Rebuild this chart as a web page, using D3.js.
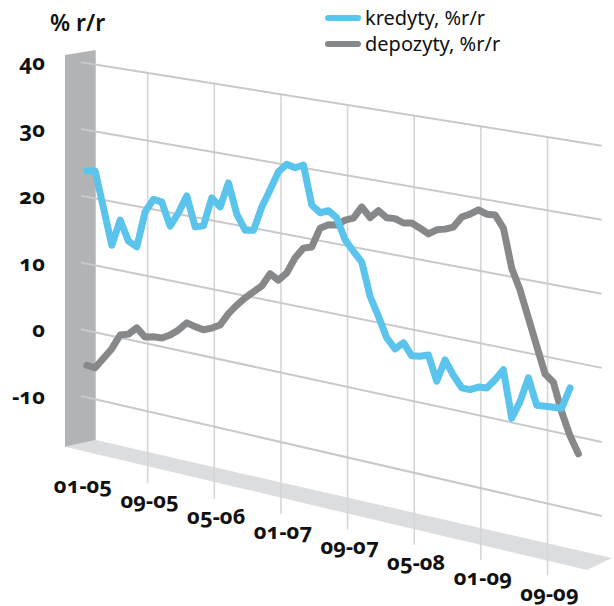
<!DOCTYPE html>
<html>
<head>
<meta charset="utf-8">
<script src="https://cdn.jsdelivr.net/npm/d3@7"></script>
<style>
	body { margin: 0; background: #fff; }
	text { font-family: "Noto Sans", sans-serif; }
	.num { font-weight: 700; font-variant-numeric: oldstyle-nums; font-feature-settings: "onum" 1; }
</style>
</head>
<body>
<svg width="614" height="606"></svg>
<script>
// monthly data, from 01-2005
const kredyty = [23.9, 24.1, 18.8, 13.5, 17.5, 14.6, 14.0, 19.4, 21.5, 21.3, 18.0, 20.2,
	22.9, 18.6, 19.0, 23.3, 22.2, 25.9, 21.6, 19.5, 19.7, 23.3, 26.0, 28.8,
	30.1, 29.8, 30.4, 24.9, 24.0, 24.5, 23.7, 20.8, 19.4, 18.1, 13.5, 10.9,
	8.1, 6.8, 7.9, 6.3, 6.5, 6.9, 3.5, 6.7, 4.8, 3.3, 3.3, 3.9,
	4.0, 5.4, 7.0, 0.6, 3.1, 6.6, 3.1, 3.2, 3.3, 3.4, 6.4];
const depozyty = [-5.2, -5.3, -3.6, -1.9, 0.4, 0.8, 2.0, 0.9, 1.2, 1.3, 2.0, 3.0,
	4.3, 4.0, 3.8, 4.3, 5.0, 6.9, 8.4, 9.7, 10.8, 11.9, 13.9, 13.2,
	14.5, 16.9, 18.5, 18.9, 21.8, 22.5, 22.7, 23.6, 24.1, 25.9, 24.6, 25.8,
	25.0, 25.1, 24.7, 24.9, 24.4, 23.8, 24.6, 24.9, 25.4, 27.0, 27.6, 28.4,
	28.0, 28.1, 26.5, 21.2, 18.4, 14.8, 11.2, 7.6, 6.7, 2.9, -0.1, -2.3];
const yTicks = [40, 30, 20, 10, 0, -10];
const xTicks = [0, 8, 16, 24, 32, 40, 48, 56];
const xTickLabels = ["01-05", "09-05", "05-06", "01-07", "09-07", "05-08", "01-09", "09-09"];
const series = [
	{ name: "kredyty, %r/r", values: kredyty, color: "#5bc4ec" },
	{ name: "depozyty, %r/r", values: depozyty, color: "#87888a" }
];

let svg = d3.select("svg");

// skewed plane: x is linear in months, y blends two value scales (left and right edge)
const x0 = 81, x1 = 601.7;
const xScale = d3.scaleLinear().domain([0, 62.5]).range([x0, x1]);
const yLeft = d3.scaleLinear().domain([40, -10]).range([62.3, 396]);
const yRight = d3.scaleLinear().domain([40, -10]).range([145.7, 516]);
const pointOffset = 0.7;

function proj(m, v) {
	const x = xScale(m);
	const f = (x - x0) / (x1 - x0);
	return [x, yLeft(v) * (1 - f) + yRight(v) * f];
}

// floor
svg.append("polygon")
	.attr("points", "65,446.7 95.7,440 612,558 587,570")
	.attr("fill", "#dcdddf");

// side wall
svg.append("polygon")
	.attr("points", "65,55 95.7,50 95.7,440 65,446.7")
	.attr("fill", "#b2b3b5");

// vertical grid lines
const labelBase = d3.scaleLinear().domain([x0, x1]).range([493, 613]);
svg.append("g").selectAll("line")
	.data(xTicks.slice(1))
	.enter().append("line")
	.attr("x1", d => xScale(d))
	.attr("x2", d => xScale(d))
	.attr("y1", d => proj(d, 40)[1])
	.attr("y2", d => labelBase(xScale(d)) - 25)
	.attr("stroke", "#d6d6d7")
	.attr("stroke-width", 1.6);

// horizontal grid lines
svg.append("g").selectAll("line")
	.data(yTicks)
	.enter().append("line")
	.attr("x1", d => proj(0, d)[0])
	.attr("y1", d => proj(0, d)[1])
	.attr("x2", d => proj(62.5, d)[0])
	.attr("y2", d => proj(62.5, d)[1])
	.attr("stroke", "#c8c9cb")
	.attr("stroke-width", 2);

// y labels
svg.append("g").selectAll("text")
	.data(yTicks)
	.enter().append("text")
	.attr("class", "num")
	.attr("x", 45)
	.attr("y", d => proj(0, d)[1] + 8)
	.attr("text-anchor", "end")
	.style("font-size", "22px")
	.attr("fill", "#111")
	.text(d => d);

// x labels
svg.append("g").selectAll("text")
	.data(xTicks)
	.enter().append("text")
	.attr("class", "num")
	.attr("x", d => xScale(d) + 2)
	.attr("y", d => labelBase(xScale(d)))
	.attr("text-anchor", "middle")
	.style("font-size", "22px")
	.attr("fill", "#111")
	.text((d, i) => xTickLabels[i]);

// lines
const line = d3.line()
	.x((d, i) => proj(i + pointOffset, d)[0])
	.y((d, i) => proj(i + pointOffset, d)[1]);

svg.append("g").selectAll("path")
	.data(series.slice().reverse())
	.enter().append("path")
	.attr("d", d => line(d.values))
	.attr("fill", "none")
	.attr("stroke", d => d.color)
	.attr("stroke-width", 7)
	.attr("stroke-linejoin", "round")
	.attr("stroke-linecap", "round");

// title
svg.append("text")
	.attr("x", 50)
	.attr("y", 31)
	.style("font-size", "23px")
	.style("font-weight", 600)
	.attr("fill", "#111")
	.text("% r/r");

// legend
const legend = svg.append("g").selectAll("g")
	.data(series)
	.enter().append("g")
	.attr("transform", (d, i) => "translate(328," + (18 + i * 26) + ")");

legend.append("line")
	.attr("x1", 0).attr("x2", 30)
	.attr("stroke", d => d.color)
	.attr("stroke-width", 6)
	.attr("stroke-linecap", "round");

legend.append("text")
	.attr("x", 37)
	.attr("y", 7)
	.style("font-size", "20px")
	.attr("fill", "#111")
	.text(d => d.name);
</script>
</body>
</html>
